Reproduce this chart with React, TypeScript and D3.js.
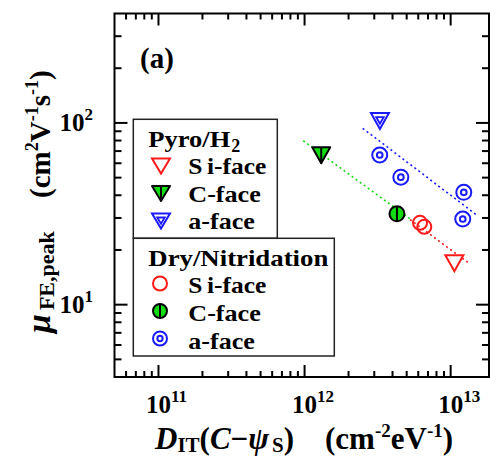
import React from 'react';
import * as d3 from 'd3';

// D_IT (cm^-2 eV^-1) vs peak field-effect mobility (cm^2/Vs)
const pyroSi = [[1.06e13, 16.9]];
const pyroC = [[1.3e12, 66.4]];
const pyroA = [[3.28e12, 102.4]];
const drySi = [[6.17e12, 28.2], [6.6e12, 26.8]];
const dryC = [[4.29e12, 31.6]];
const dryA = [[3.27e12, 66.6], [4.56e12, 50.3], [1.23e13, 41.5], [1.21e13, 29.6]];

// dotted trend lines
const fitC = [[9.8e11, 79.8], [5.41e12, 29.2]];
const fitSi = [[5.27e12, 29.4], [1.335e13, 16.9]];
const fitA = [[2.5e12, 93.4], [1.51e13, 31.1]];

const xDecades = [1e11, 1e12, 1e13];
const yDecades = [1e1, 1e2];

const FONT = '"Liberation Serif", "Times New Roman", serif';
const RED = '#ff1a1a';
const GREEN = '#11dd11';
const BLUE = '#1a1aff';

const W = 490;
const H = 457;
const left = 114.5;
const right = 489;
const top = 13.5;
const bottom = 377;

function TriDown({ cx, cy, w, h, kind }) {
  const p = `M${cx - w / 2},${cy - h / 2}L${cx + w / 2},${cy - h / 2}L${cx},${cy + h / 2}Z`;
  if (kind === 'si') {
    return <path d={p} fill="white" stroke={RED} strokeWidth={2} />;
  }
  if (kind === 'c') {
    return (
      <g>
        <path d={p} fill={GREEN} stroke="black" strokeWidth={2} strokeLinejoin="round" />
        <line x1={cx} x2={cx} y1={cy - h / 2} y2={cy + h / 2} stroke="black" strokeWidth={2} />
      </g>
    );
  }
  const iw = w * 0.42;
  const ih = h * 0.42;
  const q = `M${cx - iw / 2},${cy - h / 2 + 4}L${cx + iw / 2},${cy - h / 2 + 4}L${cx},${cy - h / 2 + 4 + ih}Z`;
  return (
    <g>
      <path d={p} fill="white" stroke={BLUE} strokeWidth={2} />
      <path d={q} fill="none" stroke={BLUE} strokeWidth={1.8} />
    </g>
  );
}

function Circ({ cx, cy, r, kind }) {
  if (kind === 'si') {
    return <circle cx={cx} cy={cy} r={r} fill="none" stroke={RED} strokeWidth={2} />;
  }
  if (kind === 'c') {
    return (
      <g>
        <circle cx={cx} cy={cy} r={r} fill={GREEN} stroke="black" strokeWidth={2} />
        <line x1={cx} x2={cx} y1={cy - r} y2={cy + r} stroke="black" strokeWidth={2} />
      </g>
    );
  }
  return (
    <g>
      <circle cx={cx} cy={cy} r={r} fill="white" stroke={BLUE} strokeWidth={2} />
      <circle cx={cx} cy={cy} r={r * 0.38} fill="none" stroke={BLUE} strokeWidth={2} />
    </g>
  );
}

const itemWidth = { 'Si-face': 78, 'C-face': 72.5, 'a-face': 66.5 };

export default function App() {
  const x = d3.scaleLog().domain([5e10, 1.83e13]).range([left, right]);
  const y = d3.scaleLog().domain([4, 400]).range([bottom, top]);
  const line = d3.line().x(d => x(d[0])).y(d => y(d[1]));

  const xt = x.ticks();
  const yt = y.ticks();
  const isMajor = v => Math.abs(Math.log10(v) - Math.round(Math.log10(v))) < 1e-6;

  const legendItem = (ty, label) => {
    const first = label.charAt(0) === 'S';
    return (
      <text x={188.3} y={ty} fontSize={23} fontWeight="bold" fontFamily={FONT}
        textLength={itemWidth[label]} lengthAdjust="spacingAndGlyphs">
        {first ? (
          <>
            <tspan>S</tspan>
            <tspan dx={4}>i-face</tspan>
          </>
        ) : label}
      </text>
    );
  };

  return (
    <svg width={W} height={H} style={{ position: 'absolute', left: 0, top: 0, background: 'white' }}>
      <rect x={0} y={0} width={W} height={H} fill="white" />

      {/* trend lines */}
      <path d={line(fitC)} fill="none" stroke={GREEN} strokeWidth={1.6} strokeDasharray="2,3" />
      <path d={line(fitSi)} fill="none" stroke={RED} strokeWidth={1.6} strokeDasharray="2,3" />
      <path d={line(fitA)} fill="none" stroke={BLUE} strokeWidth={1.6} strokeDasharray="2,3" />

      {/* data */}
      {dryA.map((d, i) => <Circ key={'da' + i} cx={x(d[0])} cy={y(d[1])} r={7.5} kind="a" />)}
      {drySi.map((d, i) => <Circ key={'ds' + i} cx={x(d[0])} cy={y(d[1])} r={7} kind="si" />)}
      {dryC.map((d, i) => <Circ key={'dc' + i} cx={x(d[0])} cy={y(d[1])} r={7.5} kind="c" />)}
      {pyroSi.map((d, i) => <TriDown key={'ps' + i} cx={x(d[0])} cy={y(d[1])} w={18} h={16} kind="si" />)}
      {pyroC.map((d, i) => <TriDown key={'pc' + i} cx={x(d[0])} cy={y(d[1])} w={18} h={16} kind="c" />)}
      {pyroA.map((d, i) => <TriDown key={'pa' + i} cx={x(d[0])} cy={y(d[1])} w={18} h={16} kind="a" />)}

      {/* frame */}
      <rect x={left} y={top} width={right - left} height={bottom - top} fill="none" stroke="black" strokeWidth={2} />

      {/* x ticks */}
      {xt.map((v, i) => {
        const len = isMajor(v) ? 12 : 6;
        const px = x(v);
        if (px < left + 1 || px > right - 1) return null;
        return (
          <g key={'xt' + i}>
            <line x1={px} x2={px} y1={bottom} y2={bottom - len} stroke="black" strokeWidth={2} />
            <line x1={px} x2={px} y1={top} y2={top + len} stroke="black" strokeWidth={2} />
          </g>
        );
      })}
      {/* y ticks */}
      {yt.map((v, i) => {
        const len = isMajor(v) ? 13 : 7;
        const py = y(v);
        if (py < top + 1 || py > bottom - 1) return null;
        return (
          <g key={'yt' + i}>
            <line x1={left} x2={left + len} y1={py} y2={py} stroke="black" strokeWidth={2} />
            <line x1={right} x2={right - len} y1={py} y2={py} stroke="black" strokeWidth={2} />
          </g>
        );
      })}

      {/* tick labels */}
      {xDecades.map(v => (
        <text key={'xl' + v} x={x(v) - 12.5} y={412.5} fontSize={25} fontWeight="bold" fontFamily={FONT}>
          10<tspan fontSize={17} dy={-11}>{Math.round(Math.log10(v))}</tspan>
        </text>
      ))}
      {yDecades.map(v => (
        <text key={'yl' + v} x={59.5} y={y(v) + 8} fontSize={25} fontWeight="bold" fontFamily={FONT}>
          10<tspan fontSize={17} dy={-11}>{Math.round(Math.log10(v))}</tspan>
        </text>
      ))}

      {/* panel label */}
      <text x={140} y={68} fontSize={29} fontWeight="bold" fontFamily={FONT}>(a)</text>

      {/* legend: Pyro/H2 */}
      <rect x={133.3} y={119.3} width={144} height={119} fill="white" stroke="#222" strokeWidth={1.5} />
      <text x={148.3} y={147} fontSize={24} fontWeight="bold" fontFamily={FONT}>
        <tspan textLength={82} lengthAdjust="spacingAndGlyphs">Pyro/H</tspan>
        <tspan fontSize={18} dy={5} dx={1}>2</tspan>
      </text>
      <TriDown cx={161} cy={166} w={18} h={15} kind="si" />
      {legendItem(174, 'Si-face')}
      <TriDown cx={161} cy={193.5} w={18} h={15} kind="c" />
      {legendItem(201.5, 'C-face')}
      <TriDown cx={161} cy={221} w={18} h={15} kind="a" />
      {legendItem(229, 'a-face')}

      {/* legend: Dry/Nitridation */}
      <rect x={133.3} y={238.3} width={201} height={117.7} fill="white" stroke="#222" strokeWidth={1.5} />
      <text x={148.3} y={266} fontSize={24} fontWeight="bold" fontFamily={FONT}
        textLength={180} lengthAdjust="spacingAndGlyphs">Dry/Nitridation</text>
      <Circ cx={160} cy={283.5} r={7} kind="si" />
      {legendItem(293, 'Si-face')}
      <Circ cx={160} cy={311} r={7} kind="c" />
      {legendItem(321, 'C-face')}
      <Circ cx={160} cy={338.5} r={7} kind="a" />
      {legendItem(348.5, 'a-face')}

      {/* x axis title */}
      <text x={155} y={448.5} fontSize={31} fontWeight="bold" fontFamily={FONT}>
        <tspan fontStyle="italic">D</tspan>
        <tspan fontSize={21} dy={3}>IT</tspan>
        <tspan dy={-3}>(</tspan>
        <tspan fontStyle="italic">C</tspan>
        <tspan>−</tspan>
        <tspan fontStyle="italic">ψ</tspan>
        <tspan fontSize={21} dy={3} dx={3}>S</tspan>
        <tspan dy={-3}>)</tspan>
        <tspan x={325}>(cm</tspan>
        <tspan fontSize={19} dy={-12}>-2</tspan>
        <tspan dy={12}>eV</tspan>
        <tspan fontSize={19} dy={-12}>-1</tspan>
        <tspan dy={12}>)</tspan>
      </text>

      {/* y axis title */}
      <text transform="translate(50,333) rotate(-90)" fontSize={29} fontWeight="bold" fontFamily={FONT}>
        <tspan x={0} fontStyle="italic" fontSize={34}>μ</tspan>
        <tspan fontSize={22} dy={4} dx={4}>FE,peak</tspan>
        <tspan x={135} dy={-4}>(cm</tspan>
        <tspan fontSize={18} dy={-12}>2</tspan>
        <tspan dy={12}>V</tspan>
        <tspan fontSize={18} dy={-12}>-1</tspan>
        <tspan dy={12}>s</tspan>
        <tspan fontSize={18} dy={-12}>-1</tspan>
        <tspan dy={12}>)</tspan>
      </text>
    </svg>
  );
}
